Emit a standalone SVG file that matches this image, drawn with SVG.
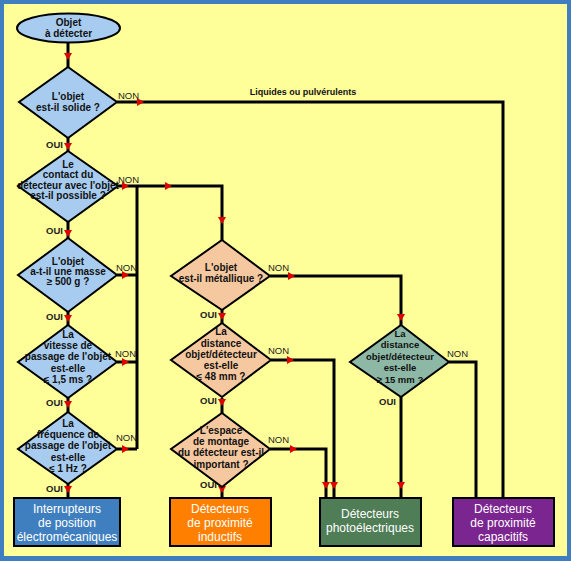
<svg xmlns="http://www.w3.org/2000/svg" width="571" height="561" viewBox="0 0 571 561">
<style>
.bg{fill:#FFFF99}
.d{stroke:#000;stroke-width:2}
.blue{fill:#A8CCF0}
.peach{fill:#F6C8A0}
.teal{fill:#8DB8A6}
.t{font-family:"Liberation Sans",Arial,sans-serif;font-size:10px;font-weight:bold;fill:#111;text-anchor:middle}
.ts{font-size:9.5px}
.lb{font-family:"Liberation Sans",Arial,sans-serif;font-size:9.5px;fill:#222}
.bt{font-family:"Liberation Sans",Arial,sans-serif;font-size:12px;fill:#fff;text-anchor:middle}
.c{fill:none;stroke:#000;stroke-width:3}
.a{fill:#E00000}
</style>
<defs>
<polygon id="ad" points="-4,-3 4,-3 0,4" class="a"/>
<polygon id="ar" points="-3,-4 -3,4 4,0" class="a"/>
</defs>
<rect x="0" y="0" width="571" height="561" fill="#3F7FC0"/>
<rect x="4" y="4" width="563" height="552" class="bg"/>

<g id="connectors">
<path class="c" d="M68,43 V67"/>
<path class="c" d="M117,102 H503 V498"/>
<path class="c" d="M68,138 V151"/>
<path class="c" d="M117,186 H222 V240"/>
<path class="c" d="M137,186 V449"/>
<path class="c" d="M68,222 V238"/>
<path class="c" d="M117,275 H137"/>
<path class="c" d="M68,312 V325"/>
<path class="c" d="M117,362 H137"/>
<path class="c" d="M68,398 V412"/>
<path class="c" d="M117,449 H137"/>
<path class="c" d="M68,483 V497"/>
<path class="c" d="M270,276 H401 V325"/>
<path class="c" d="M222,310 V323"/>
<path class="c" d="M271,360 H334 V498"/>
<path class="c" d="M222,398 V413"/>
<path class="c" d="M270,449 H326 V498"/>
<path class="c" d="M222,487 V498"/>
<path class="c" d="M449,362 H476 V498"/>
<path class="c" d="M401,397 V498"/>
<use href="#ad" x="68" y="56"/>
<use href="#ar" x="140" y="102"/>
<use href="#ad" x="68" y="146"/>
<use href="#ar" x="125" y="186"/>
<use href="#ar" x="168" y="186"/>
<use href="#ad" x="222" y="220"/>
<use href="#ad" x="68" y="233"/>
<use href="#ar" x="125" y="275"/>
<use href="#ad" x="68" y="318"/>
<use href="#ar" x="125" y="362"/>
<use href="#ad" x="68" y="404"/>
<use href="#ar" x="125" y="449"/>
<use href="#ad" x="68" y="489"/>
<use href="#ar" x="291" y="276"/>
<use href="#ad" x="401" y="317"/>
<use href="#ad" x="222" y="316"/>
<use href="#ar" x="290" y="360"/>
<use href="#ad" x="334" y="485"/>
<use href="#ad" x="222" y="402"/>
<use href="#ar" x="293" y="449"/>
<use href="#ad" x="326" y="485"/>
<use href="#ad" x="222" y="489"/>
<use href="#ad" x="401" y="485"/>
<text class="t" x="303" y="95" style="font-size:9px">Liquides ou pulvérulents</text>
<g class="lb">
<text x="118" y="99">NON</text>
<text x="118" y="183">NON</text>
<text x="116" y="271">NON</text>
<text x="115" y="357">NON</text>
<text x="116" y="441">NON</text>
<text x="268" y="271">NON</text>
<text x="268" y="354">NON</text>
<text x="268" y="443">NON</text>
<text x="447" y="357">NON</text>
<g text-anchor="end" font-weight="bold">
<text x="63" y="148">OUI</text>
<text x="63" y="234">OUI</text>
<text x="63" y="320">OUI</text>
<text x="63" y="406">OUI</text>
<text x="63" y="492">OUI</text>
<text x="217" y="318">OUI</text>
<text x="217" y="404">OUI</text>
<text x="217" y="488">OUI</text>
<text x="396" y="405">OUI</text>
</g>
</g>
</g>

<g id="start">
<ellipse class="d blue" cx="68.5" cy="28" rx="51.5" ry="14.5"/>
<text class="t" x="68.5" y="26">Objet</text>
<text class="t" x="68.5" y="37">à détecter</text>
</g>

<g id="d-solide">
<polygon class="d blue" points="68,67 117,102 68,138 19,102"/>
<text class="t" x="68" y="100">L'objet</text>
<text class="t" x="68" y="111">est-il solide ?</text>
</g>

<g id="d-contact">
<polygon class="d blue" points="68,151 118,186 68,222 18,186"/>
<text class="t" x="68" y="168">Le</text>
<text class="t" x="68" y="178">contact du</text>
<text class="t" x="68" y="189">détecteur avec l'objet</text>
<text class="t" x="68" y="199">est-il possible ?</text>
</g>

<g id="d-masse">
<polygon class="d blue" points="68,238 117,275 68,312 18,275"/>
<text class="t" x="68" y="265">L'objet</text>
<text class="t" x="68" y="275">a-t-il une masse</text>
<text class="t" x="68" y="285">≥  500 g ?</text>
</g>

<g id="d-vitesse">
<polygon class="d blue" points="68,325 117,362 68,398 18,362"/>
<text class="t" x="68" y="338">La</text>
<text class="t" x="68" y="349">vitesse de</text>
<text class="t" x="68" y="360">passage de l'objet</text>
<text class="t" x="68" y="372">est-elle</text>
<text class="t" x="68" y="383">≤ 1,5 ms ?</text>
</g>

<g id="d-frequence">
<polygon class="d blue" points="68,412 117,449 68,484 18,449"/>
<text class="t" x="68" y="427">La</text>
<text class="t" x="68" y="438">fréquence de</text>
<text class="t" x="68" y="449">passage de l'objet</text>
<text class="t" x="68" y="461">est-elle</text>
<text class="t" x="68" y="472">≤ 1 Hz ?</text>
</g>

<g id="d-metallique">
<polygon class="d peach" points="222,240 270,276 222,310 171,276"/>
<text class="t" x="221" y="271">L'objet</text>
<text class="t" x="221" y="282">est-il métallique ?</text>
</g>

<g id="d-distance48">
<polygon class="d peach" points="222,323 271,360 222,397 171,360"/>
<text class="t" x="221" y="335">La</text>
<text class="t" x="221" y="347">distance</text>
<text class="t" x="221" y="358">objet/détecteur</text>
<text class="t" x="221" y="369">est-elle</text>
<text class="t" x="221" y="380">≤ 48 mm ?</text>
</g>

<g id="d-espace">
<polygon class="d peach" points="222,413 270,449 222,487 171,449"/>
<text class="t" x="221" y="434">L'espace</text>
<text class="t" x="221" y="445">de montage</text>
<text class="t" x="221" y="456">du détecteur est-il</text>
<text class="t" x="221" y="468">important ?</text>
</g>

<g id="d-distance15">
<polygon class="d teal" points="401,325 449,362 401,397 350,362"/>
<text class="t ts" x="400" y="337">La</text>
<text class="t ts" x="400" y="348">distance</text>
<text class="t ts" x="400" y="360">objet/détecteur</text>
<text class="t ts" x="400" y="371">est-elle</text>
<text class="t ts" x="400" y="383">≥ 15 mm ?</text>
</g>

<g id="b-interrupteurs">
<rect class="d" x="14" y="498" width="106" height="48" fill="#3F7FC0"/>
<text class="bt" x="67" y="513">Interrupteurs</text>
<text class="bt" x="67" y="527">de position</text>
<text class="bt" x="67" y="541">électromécaniques</text>
</g>

<g id="b-inductifs">
<rect class="d" x="170" y="498" width="101" height="48" fill="#FF8000"/>
<text class="bt" x="220" y="513">Détecteurs</text>
<text class="bt" x="220" y="527">de proximité</text>
<text class="bt" x="220" y="541">inductifs</text>
</g>

<g id="b-photo">
<rect class="d" x="320" y="498" width="101" height="48" fill="#4F7D55"/>
<text class="bt" x="370" y="518">Détecteurs</text>
<text class="bt" x="370" y="532">photoélectriques</text>
</g>

<g id="b-capacitifs">
<rect class="d" x="453" y="498" width="101" height="48" fill="#7B2590"/>
<text class="bt" x="503" y="513">Détecteurs</text>
<text class="bt" x="503" y="527">de proximité</text>
<text class="bt" x="503" y="541">capacitifs</text>
</g>
</svg>
